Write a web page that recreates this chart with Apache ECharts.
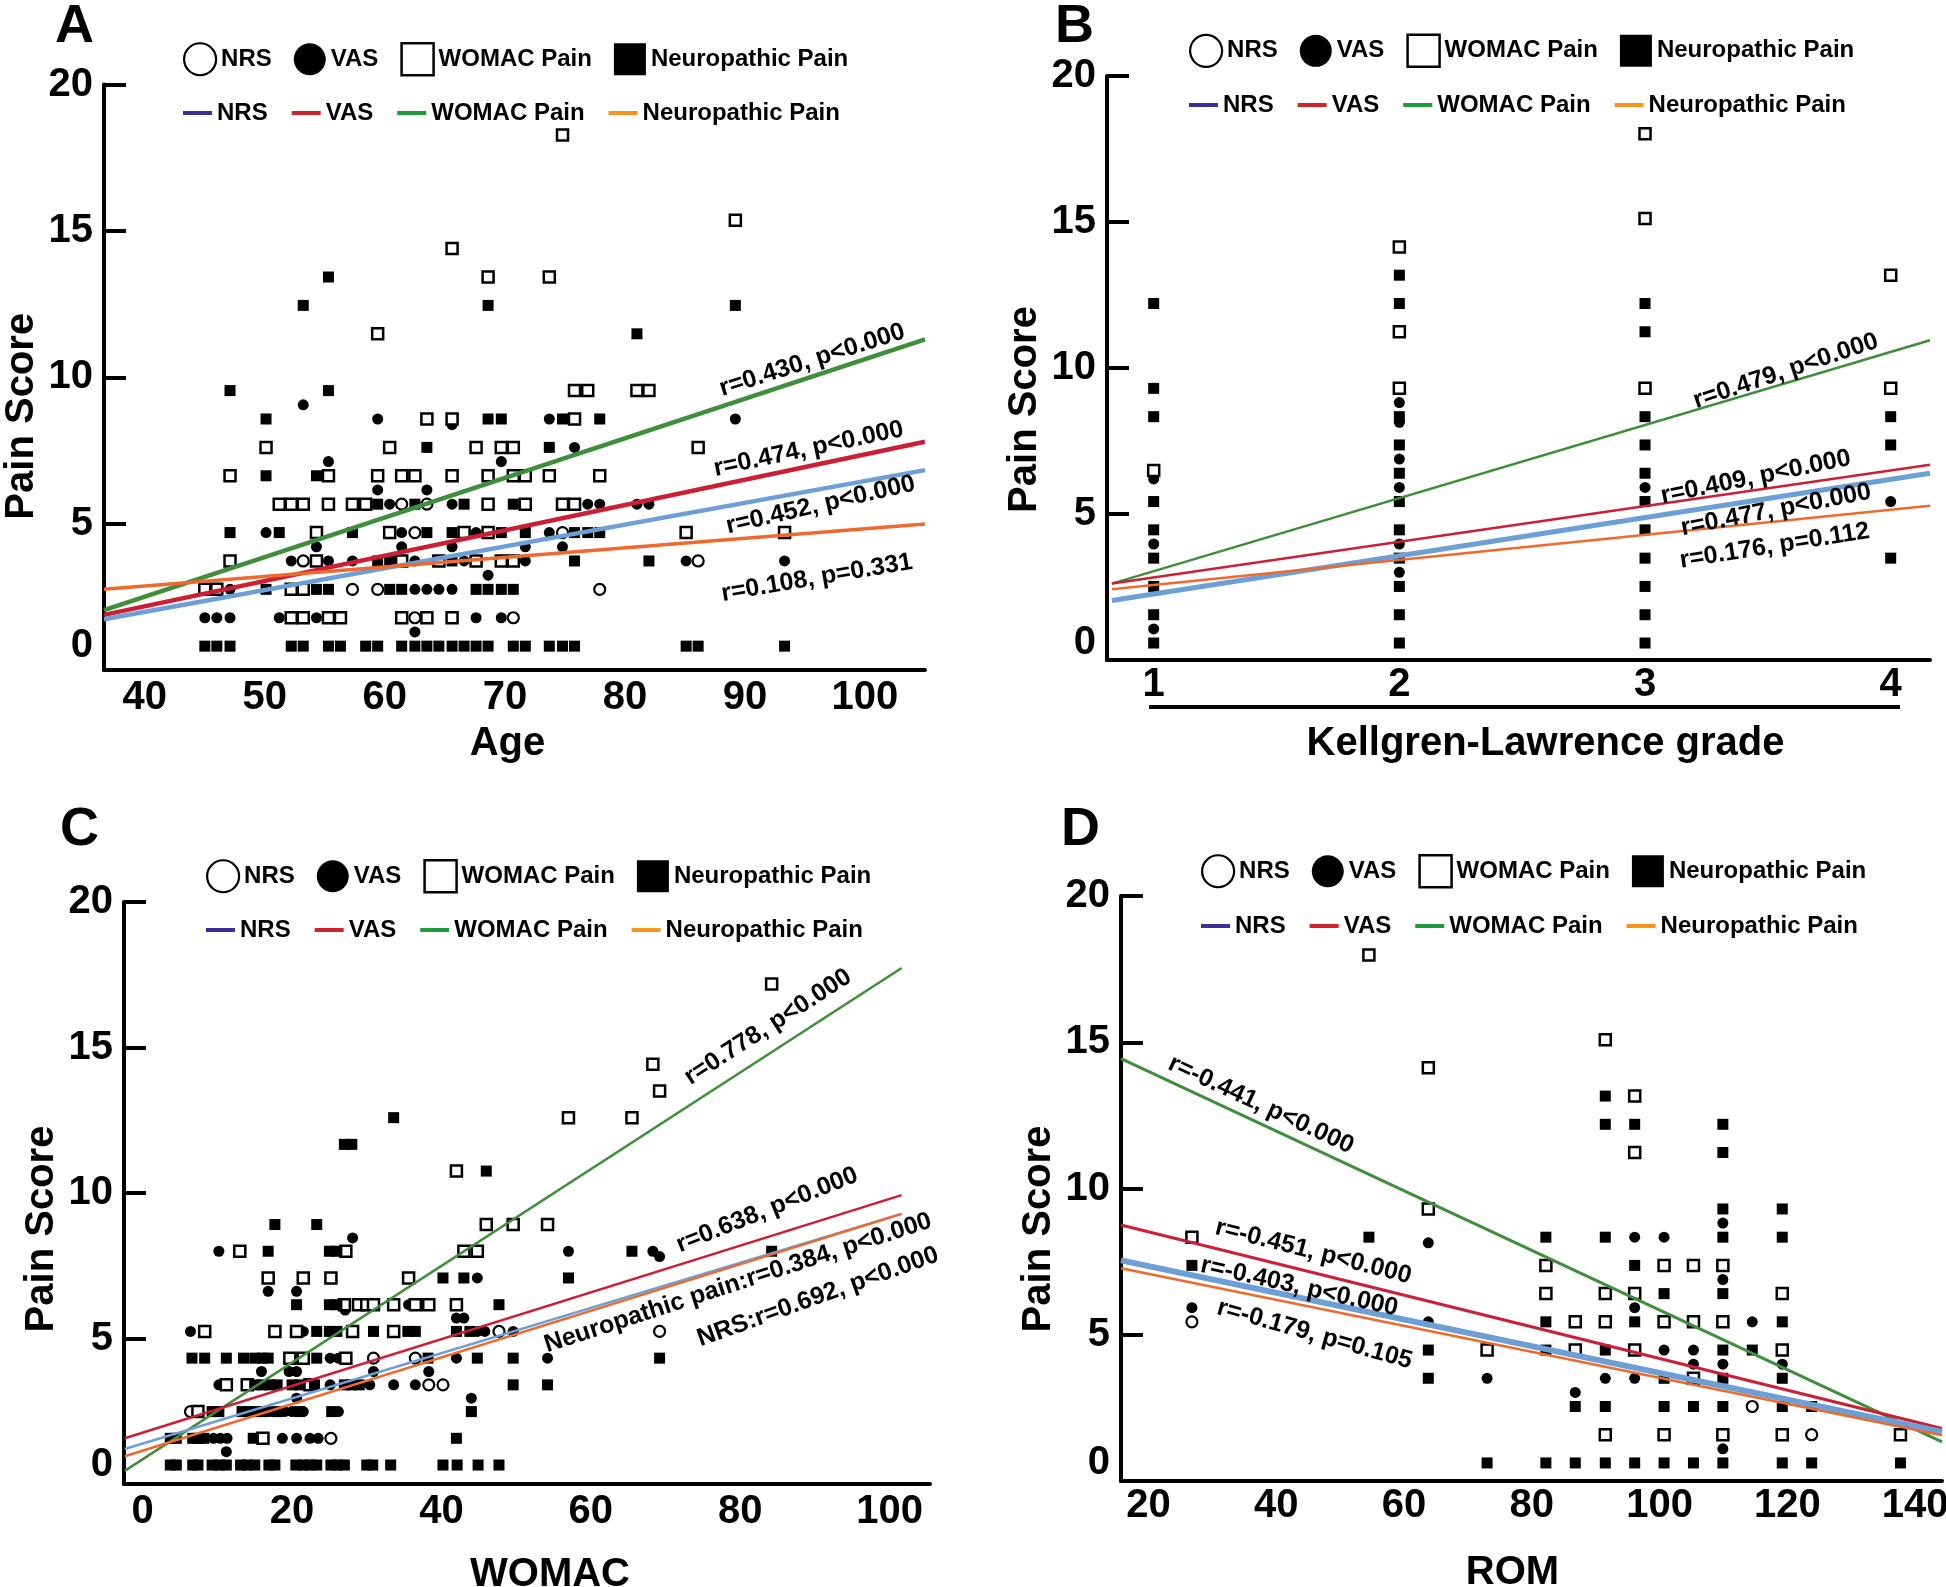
<!DOCTYPE html>
<html>
<head>
<meta charset="utf-8">
<title>Pain score correlations</title>
<script src="https://cdn.jsdelivr.net/npm/echarts@6/dist/echarts.min.js"></script>
<style>
  html, body { margin: 0; padding: 0; background: #fff; }
  #chart { width: 1946px; height: 1587px; }
</style>
</head>
<body>
<div id="chart"></div>
<script>
// ---------- values ----------
// A: age vs pain score
const ageNRS = [[61.4,5],[63.5,5],[62.5,4],[53.2,3],[57.3,2],[59.4,2],[62.5,1],[70.7,1],[74.8,4],[86.1,3],[77.9,2]];
const ageVAS = [[53.2,8.5],[59.4,8],[65.6,7.8],[55.3,6.5],[69.7,6.5],[59.4,5.5],[63.5,5.5],[60.4,5],[65.6,5],[50.1,4],[61.4,4],[67.6,4],
  [54.3,3.5],[61.4,3.5],[65.6,3.5],[52.2,3],[55.3,3],[57.3,3],[62.5,3],[66.6,3],[68.6,2.5],[47.1,2],[62.5,2],[63.5,2],[64.5,2],[65.6,2],
  [45,1],[46,1],[47.1,1],[51.2,1],[54.3,1],[67.6,1],[69.7,1],[62.5,0.5],[73.7,8],[89.2,8],[75.8,7],[76.9,5],[77.9,5],[81,5],[82,5],
  [73.7,4],[71.7,3.5],[74.8,3.5],[71.7,3],[85.1,3],[93.3,3]];
const ageWOMAC = [[65.6,14],[68.6,13],[59.4,11],[63.5,8],[65.6,8],[50.1,7],[60.4,7],[67.6,7],[69.7,7],[70.7,7],[47.1,6],[55.3,6],[59.4,6],
  [61.4,6],[62.5,6],[65.6,6],[68.6,6],[70.7,6],[51.2,5],[52.2,5],[53.2,5],[55.3,5],[57.3,5],[58.4,5],[68.6,5],[54.3,4],[60.4,4],[66.6,4],
  [68.6,4],[47.1,3],[54.3,3],[61.4,3],[64.5,3],[67.6,3],[69.7,3],[70.7,3],[45,2],[46,2],[52.2,2],[53.2,2],[52.2,1],[53.2,1],[55.3,1],
  [56.3,1],[61.4,1],[63.5,1],[65.6,1],[74.8,18],[89.2,15],[73.7,13],[75.8,9],[76.9,9],[81,9],[82,9],[75.8,8],[86.1,7],[71.7,6],[73.7,6],
  [77.9,6],[71.7,5],[74.8,5],[75.8,5],[85.1,4],[93.3,4]];
const ageNeuro = [[55.3,13],[53.2,12],[68.6,12],[47.1,9],[55.3,9],[50.1,8],[68.6,8],[69.7,8],[63.5,7],[50.1,6],[54.3,6],[59.4,5],[62.5,5],
  [66.6,5],[70.7,5],[47.1,4],[51.2,4],[57.3,4],[63.5,4],[65.6,4],[69.7,4],[59.4,3],[60.4,3],[65.6,3],[50.1,2],[54.3,2],[55.3,2],[60.4,2],
  [61.4,2],[67.6,2],[68.6,2],[69.7,2],[70.7,2],[45,0],[46,0],[47.1,0],[52.2,0],[53.2,0],[55.3,0],[56.3,0],[58.4,0],[59.4,0],[61.4,0],
  [62.5,0],[63.5,0],[64.5,0],[65.6,0],[66.6,0],[67.6,0],[68.6,0],[70.7,0],[89.2,12],[81,11],[74.8,8],[77.9,8],[73.7,7],[71.7,4],[75.8,4],
  [76.9,4],[77.9,4],[75.8,3],[82,3],[71.7,0],[73.7,0],[74.8,0],[75.8,0],[85.1,0],[86.1,0],[93.3,0]];
const fitAgeX = [36.6, 105];
const fitAgeNRS = [0.95, 6.2];
const fitAgeVAS = [1.1, 7.2];
const fitAgeWOMAC = [1.27, 10.8];
const fitAgeNeuro = [2.0, 4.3];
const notesAge = ['r=0.430, p<0.000', 'r=0.474, p<0.000', 'r=0.452, p<0.000', 'r=0.108, p=0.331'];

// B: Kellgren-Lawrence grade vs pain score
const klNRS = [];
const klVAS = [[1,5.8],[1,3.5],[1,0.5],[2,8.5],[2,7.8],[2,6.5],[2,5.5],[2,3.5],[2,2.5],[3,5.5],[4,5]];
const klWOMAC = [[1,6.1],[2,14],[2,11],[2,9],[3,18],[3,15],[3,9],[4,13],[4,9]];
const klNeuro = [[1,12],[1,9],[1,8],[1,5],[1,4],[1,3],[1,2],[1,1],[1,0],[2,13],[2,12],[2,8],[2,7],[2,6],[2,5],[2,4],[2,3],[2,2],[2,1],
  [2,0],[3,12],[3,11],[3,8],[3,7],[3,6],[3,5],[3,4],[3,3],[3,2],[3,1],[3,0],[4,8],[4,7],[4,3]];
const fitKlX = [0.83, 4.16];
const fitKlNRS = [1.5, 6.0];
const fitKlVAS = [2.1, 6.3];
const fitKlWOMAC = [2.1, 10.7];
const fitKlNeuro = [1.9, 4.85];
const notesKl = ['r=0.479, p<0.000', 'r=0.409, p<0.000', 'r=0.477, p<0.000', 'r=0.176, p=0.112'];

// C: WOMAC vs pain score
const womNRS = [[6.4,2],[25.2,1],[30.9,4],[36.5,4],[38.3,3],[40.2,3],[47.7,5],[69.2,5]];
const womVAS = [[10.2,8],[28.1,8.5],[16.8,6.5],[20.6,6.5],[35.6,6],[27.1,5.8],[42,5.5],[43,5.5],[6.4,5],[21.5,5],[44.8,5],[45.8,5],
  [49.6,5],[20.6,4],[25.1,4],[26.2,4],[42,4],[54.2,4],[15.9,3.5],[19.6,3.5],[20.6,3.5],[30.9,3.5],[38.3,3.5],[10.2,3],[25.1,3],[30.4,3],
  [33.6,3],[36.5,3],[20.6,2.5],[44,2.5],[17,2],[19,2],[20,2],[21.5,2],[26.2,2],[9.5,1],[10.4,1],[11.3,1],[18.7,1],[20.6,1],[22.4,1],
  [23.5,1],[11.2,0.5],[57,8],[68.3,8],[69.2,7.8],[44.8,7]];
const womWOMAC = [[13,8],[27.2,8],[43,8],[44.8,8],[16.8,7],[21.5,7],[25.2,7],[35.6,7],[27,6],[28.9,6],[30,6],[30.9,6],[33.6,6],[36.5,6],
  [38.3,6],[42,6],[8.3,5],[17.7,5],[20.6,5],[28.1,5],[33.6,5],[19.7,4],[21.5,4],[27.2,4],[11.2,3],[14,3],[22.4,3],[7.4,2],[16.1,1],
  [42,11],[46,9],[49.6,9],[54.2,9],[84.2,18],[68.3,15],[69.2,14],[57,13],[65.5,13]];
const womNeuro = [[33.6,13],[27,12],[28,12],[46,11],[17.7,9],[23.3,9],[16.8,8],[25,8],[26,8],[65.5,8],[84.2,8],[40.2,7],[43,7],[57,7],
  [20.6,6],[25,6],[26,6],[47.7,6],[23.3,5],[25,5],[26,5],[30.9,5],[35.5,5],[36.5,5],[42,5],[43.8,5],[6.6,4],[8.3,4],[11.2,4],[13.5,4],
  [15,4],[16,4],[16.8,4],[23.3,4],[38.2,4],[44.8,4],[49.6,4],[69.2,4],[15,3],[16,3],[17,3],[18,3],[20,3],[21,3],[23,3],[27,3],[28,3],
  [29,3],[49.6,3],[54.2,3],[9.3,2],[10.2,2],[13.3,2],[14.2,2],[15.2,2],[16.1,2],[18,2],[21,2],[25.3,2],[44,2],[3.7,1],[4.5,1],[6.7,1],
  [7.4,1],[8.2,1],[14.8,1],[42,1],[3.7,0],[4.5,0],[6.7,0],[7.4,0],[9.3,0],[10.3,0],[11.2,0],[13.1,0],[14,0],[15,0],[16.9,0],[17.7,0],
  [20.5,0],[21.5,0],[22.4,0],[23.3,0],[25.2,0],[26.1,0],[27,0],[30,0],[30.8,0],[33.2,0],[40.2,0],[42.1,0],[44.9,0],[47.7,0]];
const fitWomX = [-2.4, 101.6];
const fitWomNRS = [0.6, 9.4];
const fitWomVAS = [1.0, 10.1];
const fitWomWOMAC = [-0.22, 18.6];
const fitWomNeuro = [0.33, 9.4];
const notesWom = ['r=0.778, p<0.000', 'r=0.638, p<0.000', 'Neuropathic pain:r=0.384, p<0.000', 'NRS:r=0.692, p<0.000'];

// D: ROM vs pain score
const romNRS = [[26.8,5],[114.5,2],[123.8,1]];
const romVAS = [[26.8,5.5],[63.8,7.8],[63.8,5],[73,3],[86.8,2.5],[91.5,3],[96.1,8],[96.1,5.5],[96.1,3],[100.7,8],[100.7,4],[105.3,4],
  [105.3,3.5],[109.9,8.5],[109.9,6.5],[109.9,3.5],[109.9,0.5],[114.5,5],[119.2,3.5]];
const romWOMAC = [[54.5,18],[63.8,14],[63.8,9],[26.8,8],[73,4],[82.2,7],[82.2,6],[86.8,5],[86.8,4],[91.5,15],[91.5,6],[91.5,5],[91.5,1],
  [96.1,13],[96.1,11],[96.1,6],[96.1,4],[100.7,7],[100.7,5],[100.7,1],[105.3,7],[105.3,5],[105.3,3],[109.9,7],[109.9,5],[109.9,1],
  [119.2,6],[119.2,4],[119.2,1],[137.7,1]];
const romNeuro = [[54.5,8],[26.8,7],[63.8,4],[63.8,3],[73,0],[82.2,8],[82.2,5],[82.2,4],[82.2,0],[86.8,2],[86.8,0],[91.5,13],[91.5,12],
  [91.5,8],[91.5,4],[91.5,2],[91.5,0],[96.1,12],[96.1,7],[96.1,5],[96.1,0],[100.7,6],[100.7,3],[100.7,2],[100.7,0],[105.3,2],[105.3,0],
  [109.9,12],[109.9,11],[109.9,9],[109.9,8],[109.9,6],[109.9,4],[109.9,3],[109.9,2],[109.9,0],[114.5,4],[119.2,9],[119.2,8],[119.2,5],
  [119.2,3],[119.2,2],[119.2,0],[123.8,2],[123.8,0],[137.7,0]];
const fitRomX = [15.7, 144.2];
const fitRomNRS = [7.18, 1.1];
const fitRomVAS = [8.43, 1.22];
const fitRomWOMAC = [14.33, 0.75];
const fitRomNeuro = [6.9, 0.98];
const notesRom = ['r=-0.441, p<0.000', 'r=-0.451, p<0.000', 'r=-0.403, p<0.000', 'r=-0.179, p=0.105'];

// ---------- layout and style ----------
const FONT = '"Liberation Sans", Arial, Helvetica, sans-serif';
const INK = '#000';
const measures = ['NRS', 'VAS', 'WOMAC Pain', 'Neuropathic Pain'];
const markStyle = [
  { symbol: 'circle', itemStyle: { color: '#fff', borderColor: INK, borderWidth: 2.2, opacity: 1 } },
  { symbol: 'circle', itemStyle: { color: INK, opacity: 1 } },
  { symbol: 'rect', itemStyle: { color: '#fff', borderColor: INK, borderWidth: 2.5, opacity: 1 } },
  { symbol: 'rect', itemStyle: { color: INK, opacity: 1 } }
];
const fitColor = ['#6b9fd5', '#cc1f35', '#3e8e3a', '#f0692c'];
const keyColor = ['#3a2e9a', '#d2232a', '#1f9b38', '#f7941d'];
const fitOrder = [2, 1, 0, 3]; // WOMAC, VAS, NRS, neuropathic

const panels = [
  { letter: 'A', letterPos: [55, 0], grid: { left: 104, top: 84.5, width: 821, height: 585.5 },
    xMin: 36.6, xMax: 105, xSplit: 6, xStep: 10, xLabelMargin: 8, yMin: -0.84, yMax: 19.78,
    xName: 'Age', xNameGap: 54, xNamePad: [0, 14, 0, 0], yNamePad: [0, 78, 0, 0],
    points: [ageNRS, ageVAS, ageWOMAC, ageNeuro], fitX: fitAgeX, fits: [fitAgeNRS, fitAgeVAS, fitAgeWOMAC, fitAgeNeuro],
    fitWidth: [4.5, 4.5, 4.5, 3.5], notes: notesAge,
    notePos: [[95.6, 10.07, 17.6], [95.3, 6.94, 12], [96.3, 4.97, 13], [96.0, 2.40, 9.6]],
    legendLeft: 183, legendTop: [42, 101] },
  { letter: 'B', letterPos: [1055, 0], grid: { left: 1107, top: 76, width: 823, height: 584 },
    xMin: 0.81, xMax: 4.16, xSplit: 3, xStep: 1, xLabelMargin: 5, yMin: -0.6, yMax: 20.04,
    xName: 'Kellgren-Lawrence grade', xNameGap: 64, xNamePad: [0, 0, 0, 54], yNamePad: [0, 83, 0, 0],
    points: [klNRS, klVAS, klWOMAC, klNeuro], fitX: fitKlX, fits: [fitKlNRS, fitKlVAS, fitKlWOMAC, fitKlNeuro],
    fitWidth: [5, 2.5, 2.5, 2.5], notes: notesKl,
    notePos: [[3.573, 9.61, 18.5], [3.451, 5.86, 11.5], [3.533, 4.70, 11], [3.528, 3.43, 9]],
    legendLeft: 1189, legendTop: [33.6, 93] },
  { letter: 'C', letterPos: [60, 803], grid: { left: 124, top: 902, width: 806, height: 582 },
    xMin: -2.5, xMax: 105.4, xSplit: 5, xStep: 20, xLabelMargin: 8, yMin: -0.71, yMax: 21.07,
    xName: 'WOMAC', xNameGap: 71, xNamePad: [0, 0, 0, 46], yNamePad: [0, 72, 0, 0],
    points: [womNRS, womVAS, womWOMAC, womNeuro], fitX: fitWomX, fits: [fitWomNRS, fitWomVAS, fitWomWOMAC, fitWomNeuro],
    fitWidth: [2.5, 2.5, 2.5, 2.5], notes: notesWom,
    notePos: [[83.7, 16.39, 32.8], [83.6, 9.54, 21.8], [79.7, 6.81, 18], [90.4, 6.29, 19.7]],
    legendLeft: 206, legendTop: [859, 918] },
  { letter: 'D', letterPos: [1061, 803], grid: { left: 1121, top: 896, width: 821, height: 585 },
    xMin: 15.7, xMax: 144.2, xSplit: 6, xStep: 20, xLabelMargin: 5, yMin: -0.64, yMax: 20.09,
    xName: 'ROM', xNameGap: 72, xNamePad: [0, 38, 0, 0], yNamePad: [0, 81, 0, 0],
    points: [romNRS, romVAS, romWOMAC, romNeuro], fitX: fitRomX, fits: [fitRomNRS, fitRomVAS, fitRomWOMAC, fitRomNeuro],
    fitWidth: [6, 3, 3, 2.5], notes: notesRom,
    notePos: [[37.6, 12.69, -25], [45.8, 7.48, -14.3], [43.6, 6.24, -12.6], [46.0, 4.55, -15.8]],
    legendLeft: 1201, legendTop: [854, 914] }
];

const bigText = { color: INK, fontSize: 40, fontWeight: 'bold', fontFamily: FONT };
const keyText = { color: INK, fontSize: 24, fontWeight: 'bold', fontFamily: FONT };

const grid = [], xAxis = [], yAxis = [], series = [], legend = [], graphic = [];

panels.forEach((p, i) => {
  // fixed pixel box; do not let v6 shrink it to fit names near the edge
  grid.push(Object.assign({ containLabel: false, outerBoundsMode: 'none' }, p.grid));
  xAxis.push({
    gridIndex: i, type: 'value', min: p.xMin, max: p.xMax, splitNumber: p.xSplit,
    axisLine: { onZero: false, lineStyle: { color: INK, width: 4 } },
    axisTick: { show: false }, splitLine: { show: false },
    axisLabel: Object.assign({ margin: p.xLabelMargin,
      formatter: v => (Math.abs(v % p.xStep) < 1e-9 ? String(v) : '') }, bigText),
    name: p.xName, nameLocation: 'middle', nameGap: p.xNameGap,
    nameTextStyle: Object.assign({ padding: p.xNamePad }, bigText)
  });
  // axis that carries the 5..20 ticks
  yAxis.push({
    gridIndex: i, type: 'value', min: 0, max: 20, interval: 5, position: 'left',
    axisLine: { onZero: false, lineStyle: { color: INK, width: 4 } },
    axisTick: { inside: true, length: 22, lineStyle: { color: INK, width: 4 } },
    splitLine: { show: false },
    axisLabel: Object.assign({ margin: 11, formatter: v => (v === 0 ? '' : String(v)) }, bigText)
  });
  // axis the points are drawn on
  yAxis.push({
    gridIndex: i, type: 'value', min: p.yMin, max: p.yMax, splitNumber: 4, position: 'left',
    axisLine: { show: false }, axisTick: { show: false }, splitLine: { show: false },
    axisLabel: Object.assign({ margin: 11, formatter: v => (v === 0 ? '0' : '') }, bigText),
    name: 'Pain Score', nameLocation: 'middle', nameGap: 62,
    nameTextStyle: Object.assign({ padding: p.yNamePad }, bigText)
  });

  measures.forEach((m, k) => {
    series.push({
      type: 'scatter', name: m, xAxisIndex: i, yAxisIndex: 2 * i + 1,
      data: p.points[k], symbol: markStyle[k].symbol, symbolSize: 11,
      itemStyle: markStyle[k].itemStyle, z: 2, silent: true
    });
  });
  fitOrder.forEach(k => {
    series.push({
      type: 'line', name: measures[k] + ' fit', xAxisIndex: i, yAxisIndex: 2 * i + 1,
      data: p.fitX.map((x, j) => [x, p.fits[k][j]]), symbol: 'none',
      lineStyle: { color: fitColor[k], width: p.fitWidth[k], opacity: 1 }, z: 3, silent: true
    });
  });
  series.push({
    type: 'scatter', name: 'notes' + p.letter, xAxisIndex: i, yAxisIndex: 2 * i + 1,
    symbolSize: 1, itemStyle: { color: 'rgba(0,0,0,0)', opacity: 1 }, z: 5, silent: true,
    label: { show: true, position: 'inside', color: INK, opacity: 1, fontSize: 25, fontWeight: 'bold',
      fontFamily: FONT, textBorderWidth: 0 },
    data: p.notes.map((t, j) => ({
      value: [p.notePos[j][0], p.notePos[j][1]],
      label: { formatter: t, rotate: p.notePos[j][2] }
    }))
  });

  legend.push({
    left: p.legendLeft, top: p.legendTop[0], padding: 0, itemGap: 22,
    itemWidth: 32, itemHeight: 32, selectedMode: false, textStyle: keyText,
    data: measures.map((m, k) => ({ name: m, icon: markStyle[k].symbol, itemStyle: markStyle[k].itemStyle }))
  });
  legend.push({
    left: p.legendLeft, top: p.legendTop[1], padding: 0, itemGap: 24,
    itemWidth: 29, itemHeight: 4, selectedMode: false, textStyle: keyText,
    formatter: n => n.replace(' fit', ''),
    data: measures.map((m, k) => ({ name: m + ' fit', icon: 'rect', itemStyle: { color: keyColor[k], borderWidth: 0 } }))
  });

  graphic.push({
    type: 'text', left: p.letterPos[0], top: p.letterPos[1],
    style: { text: p.letter, fontSize: 54, fontWeight: 'bold', fontFamily: FONT, fill: INK }
  });
});

// underline beneath the grade labels of panel B
graphic.push({ type: 'line', shape: { x1: 1149, y1: 707, x2: 1900, y2: 707 }, style: { stroke: INK, lineWidth: 4 } });

const chart = echarts.init(document.getElementById('chart'));
chart.setOption({
  backgroundColor: '#fff',
  animation: false,
  grid, xAxis, yAxis, series, legend, graphic
});
</script>
</body>
</html>
